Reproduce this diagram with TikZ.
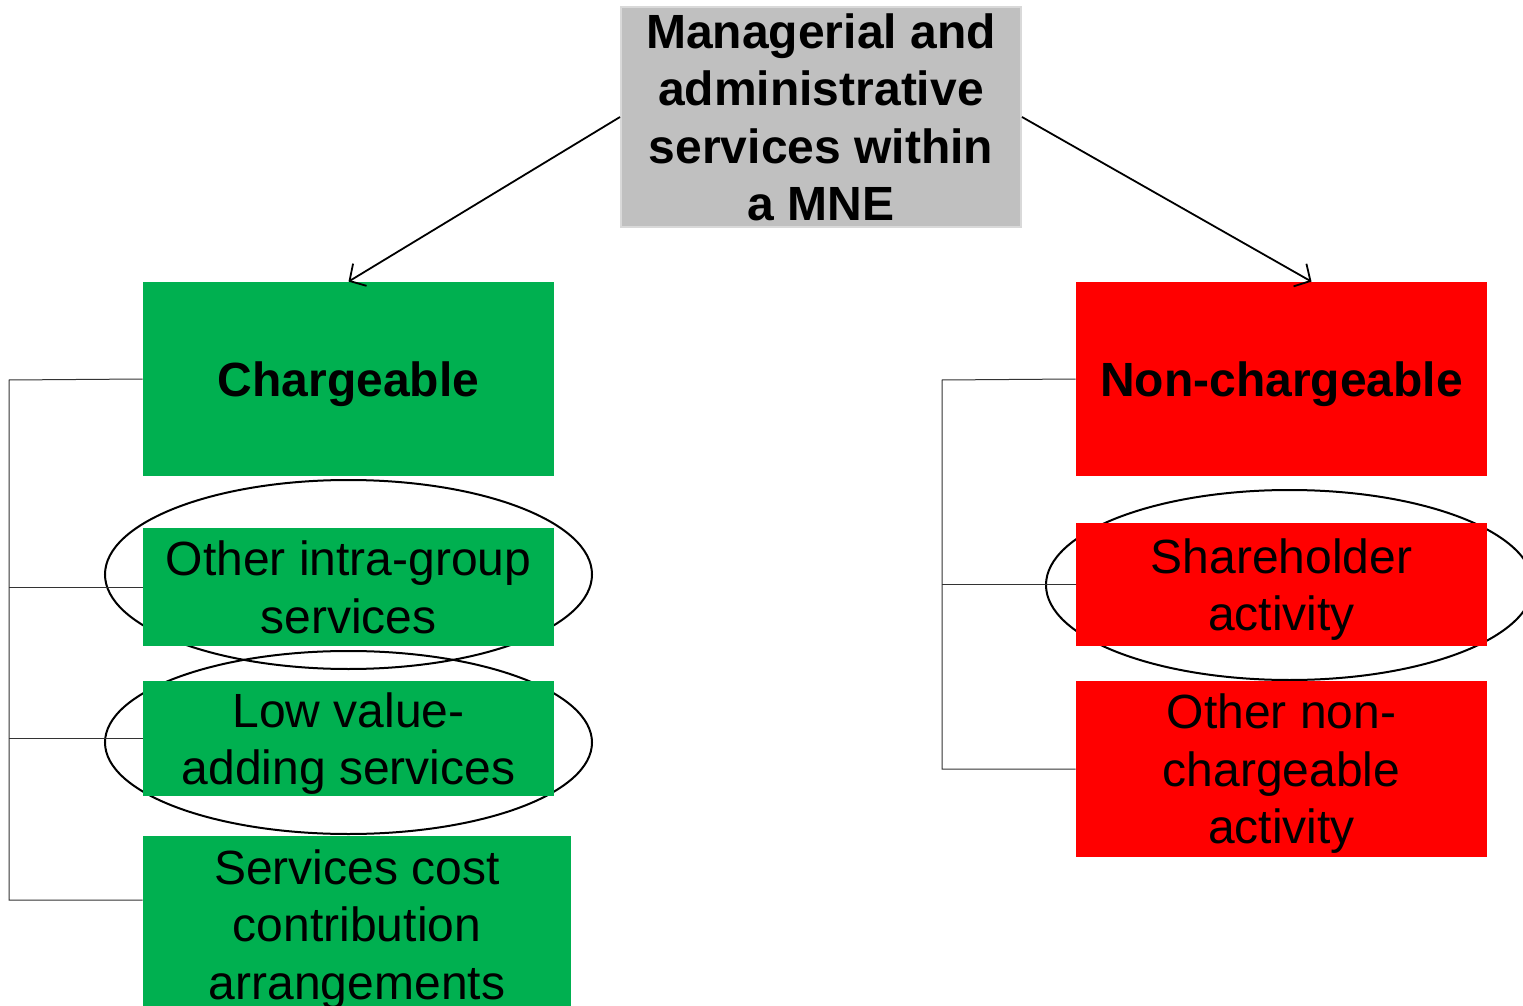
\documentclass[tikz,border=0pt]{standalone}
\usepackage{fontspec}
\setmainfont{Liberation Sans}
\usetikzlibrary{shapes.geometric, arrows.meta}

\definecolor{chgreen}{RGB}{0,176,80}
\definecolor{ncred}{RGB}{255,0,0}
\definecolor{topgray}{RGB}{192,192,192}
\definecolor{topedge}{RGB}{217,217,217}

\tikzset{
	box/.style={rectangle, inner sep=0pt, align=center, text=black, text depth=0pt,
		font=\fontsize{24}{28.75}\selectfont},
	charge/.style={box, fill=chgreen},
	nocharge/.style={box, fill=ncred},
	ring/.style={ellipse, draw, line width=1pt, inner sep=0pt,
		minimum width=243.5pt, minimum height=94.5pt},
	rail/.style={draw=black!80, line width=0.5pt},
	link/.style={-{Straight Barb[length=6pt, width=13pt]}, line width=0.9pt}
}

\begin{document}
\begin{tikzpicture}[x=0.5pt, y=-0.5pt]
			\useasboundingbox (0,0) rectangle (1523,1006);
			
			% rings behind the boxes
			\node[ring] (ringother) at (348.5,574.5) {};
			\node[ring, minimum height=91.5pt] (ringlow) at (348.5,742.5) {};
			\node[ring, minimum height=95pt] (ringshare) at (1289.5,585) {};
			
			\node[box, fill=topgray, draw=topedge, line width=1pt,
				minimum width=200pt, minimum height=110pt,
				font=\bfseries\fontsize{24}{28.75}\selectfont] (mne) at (821,117)
				{Managerial and\\administrative\\services within\\a MNE};
			
			% chargeable side
			\node[charge, minimum width=205.5pt, minimum height=97pt,
				font=\bfseries\fontsize{24}{28.75}\selectfont] (chg) at (348.5,379) {Chargeable};
			\node[charge, minimum width=205.5pt, minimum height=59pt] (other) at (348.5,587)
				{Other intra-group\\services};
			\node[charge, minimum width=205.5pt, minimum height=57.5pt] (low) at (348.5,738.5)
				{Low value-\\adding services};
			\node[charge, minimum width=214pt, minimum height=88.5pt] (cca) at (357,924.5)
				{Services cost\\contribution\\arrangements};
			
			% non-chargeable side
			\node[nocharge, minimum width=205.5pt, minimum height=97pt,
				font=\bfseries\fontsize{24}{28.75}\selectfont] (nonchg) at (1281.5,379) {Non-chargeable};
			\node[nocharge, minimum width=205.5pt, minimum height=61.5pt] (share) at (1281.5,584.5)
				{Shareholder\\activity};
			\node[nocharge, minimum width=205.5pt, minimum height=88pt] (othernc) at (1281.5,769)
				{Other non-\\chargeable\\activity};
			
			\draw[link] (mne.west) -- (chg.north);
			\draw[link] (mne.east) -- ([xshift=15pt]nonchg.north);
			
			% side rails
			\coordinate (ltop) at (9,380);
			\coordinate (lbot) at (9,900);
			\draw[rail] (chg.west) -- (ltop) -- (lbot) -- (cca.west |- lbot);
			\draw[rail] (other.west) -- (other.west -| ltop);
			\draw[rail] (low.west) -- (low.west -| ltop);
			
			\coordinate (rtop) at (942,380);
			\draw[rail] (nonchg.west) -- (rtop) |- (othernc.west);
			\draw[rail] (share.west) -- (share.west -| rtop);
\end{tikzpicture}
\end{document}
